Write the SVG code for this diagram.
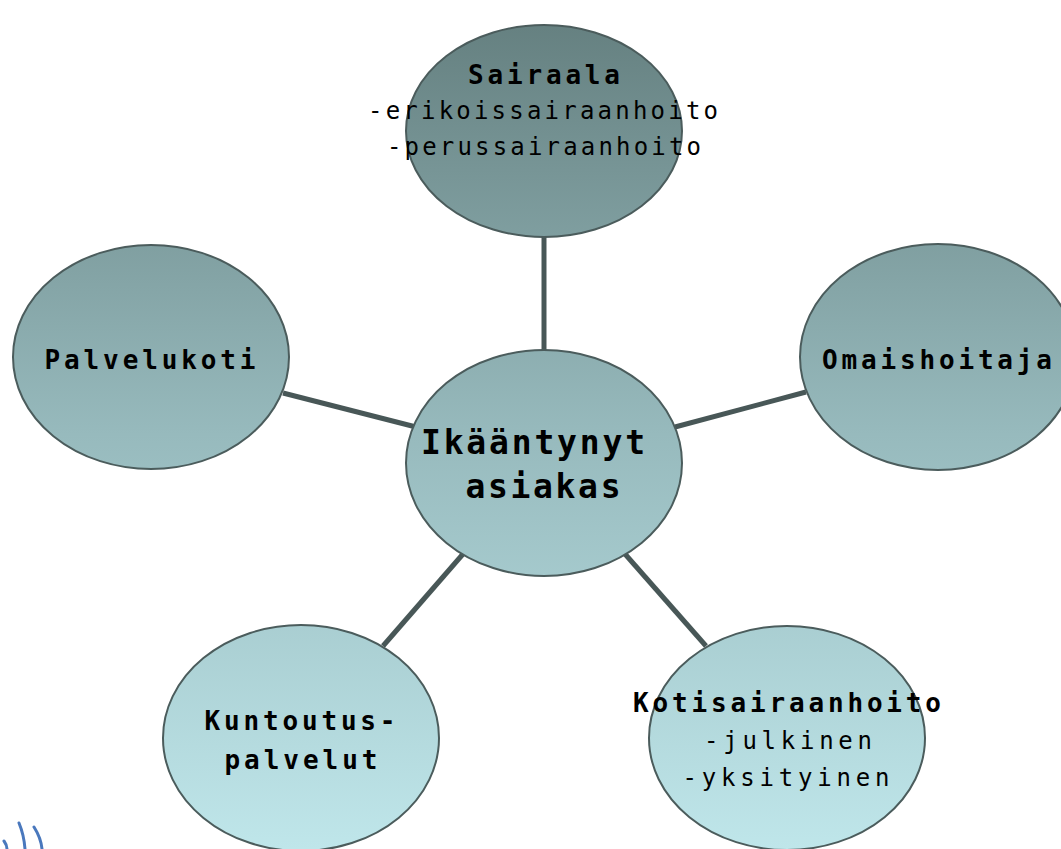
<svg xmlns="http://www.w3.org/2000/svg" width="1061" height="849" viewBox="0 0 1061 849">
<defs>
<linearGradient id="g" gradientUnits="userSpaceOnUse" x1="0" y1="20" x2="0" y2="849">
<stop offset="0" stop-color="#658080"/>
<stop offset="0.5" stop-color="#97babd"/>
<stop offset="1" stop-color="#bfe6ea"/>
</linearGradient>
<style>
.n{fill:url(#g);stroke:#4b5c5c;stroke-width:2}
.c{stroke:#485757;stroke-width:5;fill:none}
text{font-family:"DejaVu Sans Mono","Liberation Mono",monospace;fill:#000;text-anchor:middle}
.b{font-weight:bold;font-size:26px}
.r{font-size:24px}
.big{font-weight:bold;font-size:33px}
</style>
</defs>
<rect width="1061" height="849" fill="#fff"/>
<g id="connectors">
<line class="c" x1="544" y1="236" x2="544" y2="351"/>
<line class="c" x1="283" y1="393" x2="416" y2="427"/>
<line class="c" x1="675" y1="427" x2="806" y2="392"/>
<line class="c" x1="383" y1="646" x2="463" y2="554"/>
<line class="c" x1="625" y1="554" x2="706" y2="646"/>
</g>
<g id="sairaala">
<ellipse class="n" cx="544" cy="131" rx="138" ry="106"/>
<text class="b" x="544" y="84" textLength="152" lengthAdjust="spacing">Sairaala</text>
<text class="r" x="543" y="119" textLength="350" lengthAdjust="spacing">-erikoissairaanhoito</text>
<text class="r" x="544" y="155" textLength="314" lengthAdjust="spacing">-perussairaanhoito</text>
</g>
<g id="palvelukoti">
<ellipse class="n" cx="151" cy="357" rx="138" ry="112"/>
<text class="b" x="150" y="369" textLength="211" lengthAdjust="spacing">Palvelukoti</text>
</g>
<g id="omaishoitaja">
<ellipse class="n" cx="938" cy="357" rx="138" ry="113"/>
<text class="b" x="937" y="369" textLength="230" lengthAdjust="spacing">Omaishoitaja</text>
</g>
<g id="center">
<ellipse class="n" cx="544" cy="463" rx="138" ry="113"/>
<text class="big" x="533" y="454" textLength="224" lengthAdjust="spacing">Ikääntynyt</text>
<text class="big" x="543" y="498" textLength="155" lengthAdjust="spacing">asiakas</text>
</g>
<g id="kuntoutus">
<ellipse class="n" cx="301" cy="738" rx="138" ry="113"/>
<text class="b" x="300" y="730" textLength="191" lengthAdjust="spacing">Kuntoutus-</text>
<text class="b" x="301" y="769" textLength="153" lengthAdjust="spacing">palvelut</text>
</g>
<g id="kotisairaanhoito">
<ellipse class="n" cx="787" cy="738" rx="138" ry="112"/>
<text class="b" x="787" y="712" textLength="308" lengthAdjust="spacing">Kotisairaanhoito</text>
<text class="r" x="788" y="749" textLength="168" lengthAdjust="spacing">-julkinen</text>
<text class="r" x="786" y="786" textLength="207" lengthAdjust="spacing">-yksityinen</text>
</g>
<g id="decor" fill="none" stroke="#4a78bd" stroke-width="3" stroke-linecap="round">
<path d="M4 841 Q7 845 7 849"/>
<path d="M19 823 Q24 835 25 849"/>
<path d="M34 827 Q41 838 42 849"/>
</g>
</svg>
